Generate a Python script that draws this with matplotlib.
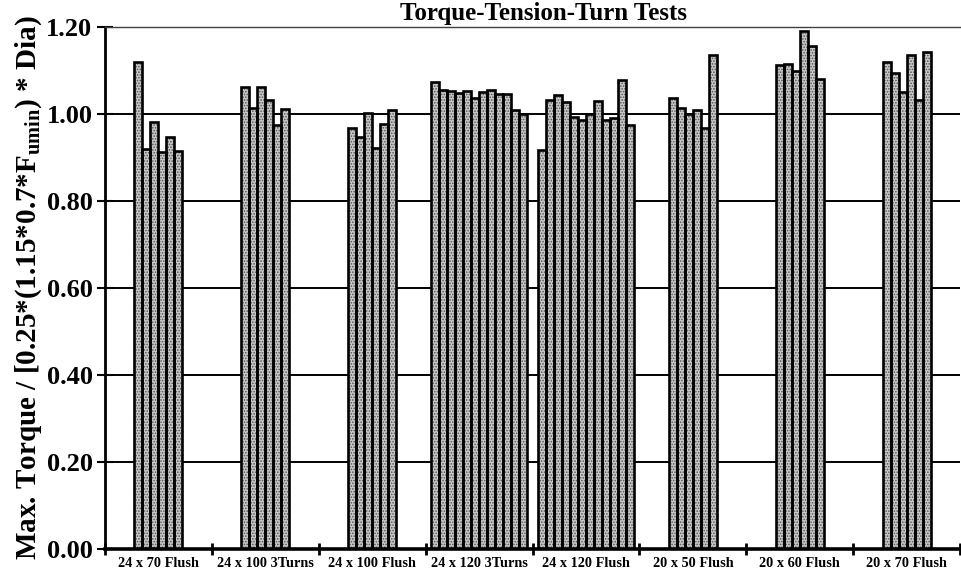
import matplotlib.pyplot as plt
import numpy as np

plt.rcParams['font.family'] = 'Liberation Serif'
plt.rcParams['font.weight'] = 'bold'
plt.rcParams['axes.labelweight'] = 'bold'
plt.rcParams['mathtext.fontset'] = 'custom'
plt.rcParams['mathtext.rm'] = 'Liberation Serif:bold'
plt.rcParams['mathtext.it'] = 'Liberation Serif:bold'
plt.rcParams['mathtext.bf'] = 'Liberation Serif:bold'
plt.rcParams['hatch.linewidth'] = 0.8

# ---------------- datos de los ensayos ----------------
grupos = ['24 x 70 Flush', '24 x 100 3Turns', '24 x 100 Flush', '24 x 120 3Turns',
          '24 x 120 Flush', '20 x 50 Flush', '20 x 60 Flush', '20 x 70 Flush']

t24x70_flush = [1.119, 0.920, 0.982, 0.912, 0.948, 0.915]
t24x100_3turns = [1.061, 1.014, 1.062, 1.033, 0.975, 1.012]
t24x100_flush = [0.968, 0.947, 1.003, 0.921, 0.978, 1.010]
t24x120_3turns = [1.074, 1.056, 1.053, 1.048, 1.054, 1.036,
                  1.050, 1.055, 1.046, 1.045, 1.009, 0.999]
t24x120_flush = [0.918, 1.033, 1.043, 1.027, 0.994, 0.986,
                 1.000, 1.029, 0.987, 0.991, 1.078, 0.974]
t20x50_flush = [1.037, 1.013, 0.999, 1.009, 0.968, 1.136]
t20x60_flush = [1.113, 1.114, 1.098, 1.191, 1.156, 1.081]
t20x70_flush = [1.120, 1.095, 1.051, 1.135, 1.032, 1.143]

series = [t24x70_flush, t24x100_3turns, t24x100_flush, t24x120_3turns,
          t24x120_flush, t20x50_flush, t20x60_flush, t20x70_flush]

fig = plt.figure(figsize=(9.61, 5.85), dpi=100)
ax = fig.add_axes([105 / 961, 36 / 585, 855 / 961, 522 / 585])

# ---------------- barras ----------------
ancho = 0.075
for i, valores in enumerate(series):
    n = len(valores)
    x = i + 0.5 + (np.arange(n) - (n - 1) / 2) * ancho
    ax.bar(x, valores, width=ancho, color='#c8c8c8', hatch='......',
           edgecolor='#555555', linewidth=0, zorder=2)
    ax.bar(x, valores, width=ancho, fill=False, edgecolor='black',
           linewidth=1.9, zorder=3)

# ---------------- ejes ----------------
ax.set_xlim(0, 8)
ax.set_ylim(0, 1.2)
ax.set_yticks(np.arange(0, 1.21, 0.2))
ax.set_yticklabels(['%.2f' % v for v in np.arange(0, 1.21, 0.2)])
ax.yaxis.grid(True, color='black', linewidth=1.4)
ax.set_axisbelow(True)

ax.set_xticks(np.arange(9))
ax.set_xticklabels([])
ax.set_xticks(np.arange(8) + 0.5, minor=True)
ax.set_xticklabels(grupos, minor=True, fontsize=10.3)
ax.tick_params(axis='x', which='major', direction='inout', length=9, width=2)
ax.tick_params(axis='x', which='minor', length=0, pad=6)
ax.tick_params(axis='y', direction='inout', length=12, width=1.5,
               labelsize=19, pad=3)

ax.spines['right'].set_visible(False)
ax.spines['top'].set_linewidth(1.0)
ax.spines['top'].set_color('#404040')
ax.spines['left'].set_linewidth(2)
ax.spines['bottom'].set_linewidth(2.6)

ax.set_ylabel(r'Max. Torque / [0.25*(1.15*0.7*F$_{\mathrm{umin}}$) * Dia)',
              fontsize=21, labelpad=2)
fig.text(0.566, 1 - 2 / 585, 'Torque-Tension-Turn Tests', ha='center',
         va='top', fontsize=18)

fig.savefig('out.png', dpi=100)
